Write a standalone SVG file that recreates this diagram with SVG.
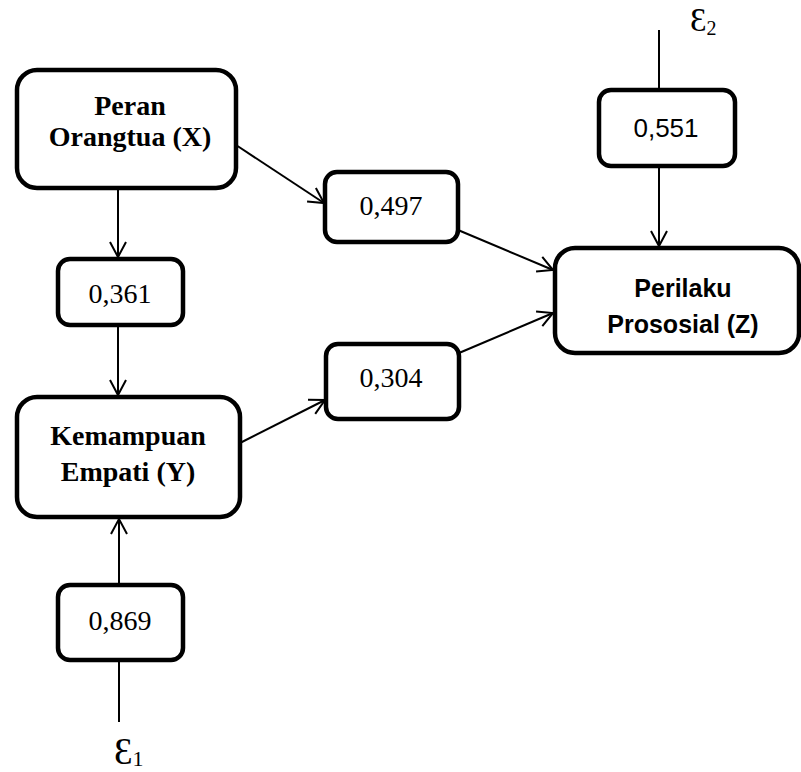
<svg xmlns="http://www.w3.org/2000/svg" width="801" height="772" viewBox="0 0 801 772">
<defs>
<marker id="arr" markerUnits="userSpaceOnUse" viewBox="-16 -10 18 20" refX="0" refY="0" markerWidth="18" markerHeight="20" orient="auto" overflow="visible">
<path d="M-15,-8 L0,0 L-15,8" fill="none" stroke="#000" stroke-width="2"/>
</marker>
</defs>
<style>
.box{fill:#fff;stroke:#000;stroke-width:4.5}
.con{stroke:#000;stroke-width:2;fill:none}
.bt{font-family:"Liberation Serif","Times New Roman",serif;font-weight:bold;font-size:28px;text-anchor:middle;fill:#000}
.nt{font-family:"Liberation Serif","Times New Roman",serif;font-size:28px;text-anchor:middle;fill:#000}
.st{font-family:"Liberation Sans",Arial,sans-serif;font-weight:bold;font-size:25px;text-anchor:middle;fill:#000}
.sn{font-family:"Liberation Sans",Arial,sans-serif;font-size:26px;text-anchor:middle;fill:#000}
.eps{font-family:"Liberation Serif","DejaVu Serif",serif;fill:#000}
</style>
<rect width="801" height="772" fill="#fff"/>
<g id="connectors">
<line class="con" x1="118" y1="188" x2="118" y2="257" marker-end="url(#arr)"/>
<line class="con" x1="118" y1="325" x2="118" y2="395" marker-end="url(#arr)"/>
<line class="con" x1="119" y1="585" x2="119" y2="519" marker-end="url(#arr)"/>
<line class="con" x1="119" y1="660" x2="119" y2="722"/>
<line class="con" x1="659" y1="30" x2="659" y2="90"/>
<line class="con" x1="659" y1="166" x2="659" y2="246" marker-end="url(#arr)"/>
<line class="con" x1="236" y1="145" x2="324" y2="203" marker-end="url(#arr)"/>
<line class="con" x1="458" y1="230" x2="553" y2="270" marker-end="url(#arr)"/>
<line class="con" x1="240" y1="443" x2="325" y2="400" marker-end="url(#arr)"/>
<line class="con" x1="459" y1="353" x2="553" y2="313" marker-end="url(#arr)"/>
</g>
<g id="peran">
<rect class="box" x="17" y="70" width="219" height="118" rx="20"/>
<text class="bt" x="130" y="115">Peran</text>
<text class="bt" x="130" y="146">Orangtua (X)</text>
</g>
<g id="kemampuan">
<rect class="box" x="17" y="397" width="223" height="120" rx="20"/>
<text class="bt" x="128" y="445">Kemampuan</text>
<text class="bt" x="128" y="481">Empati (Y)</text>
</g>
<g id="perilaku">
<rect class="box" x="555" y="248" width="244" height="105" rx="20"/>
<text class="st" x="683" y="297">Perilaku</text>
<text class="st" x="683" y="333">Prososial (Z)</text>
</g>
<g id="p361">
<rect class="box" x="58" y="259" width="125" height="66" rx="12"/>
<text class="nt" x="120" y="303">0,361</text>
</g>
<g id="p869">
<rect class="box" x="58" y="585" width="125" height="75" rx="12"/>
<text class="nt" x="120" y="630">0,869</text>
</g>
<g id="p497">
<rect class="box" x="325" y="172" width="133" height="70" rx="12"/>
<text class="nt" x="391" y="215">0,497</text>
</g>
<g id="p304">
<rect class="box" x="326" y="344" width="133" height="75" rx="12"/>
<text class="nt" x="391" y="387">0,304</text>
</g>
<g id="p551">
<rect class="box" x="599" y="90" width="136" height="76" rx="12"/>
<text class="sn" x="666" y="137">0,551</text>
</g>
<g id="e1">
<text class="eps" x="114" y="764" font-size="37">Ɛ<tspan font-size="22" dy="2">1</tspan></text>
</g>
<g id="e2">
<text class="eps" x="690" y="31" font-size="33">Ɛ<tspan font-size="20" dy="4">2</tspan></text>
</g>
</svg>
